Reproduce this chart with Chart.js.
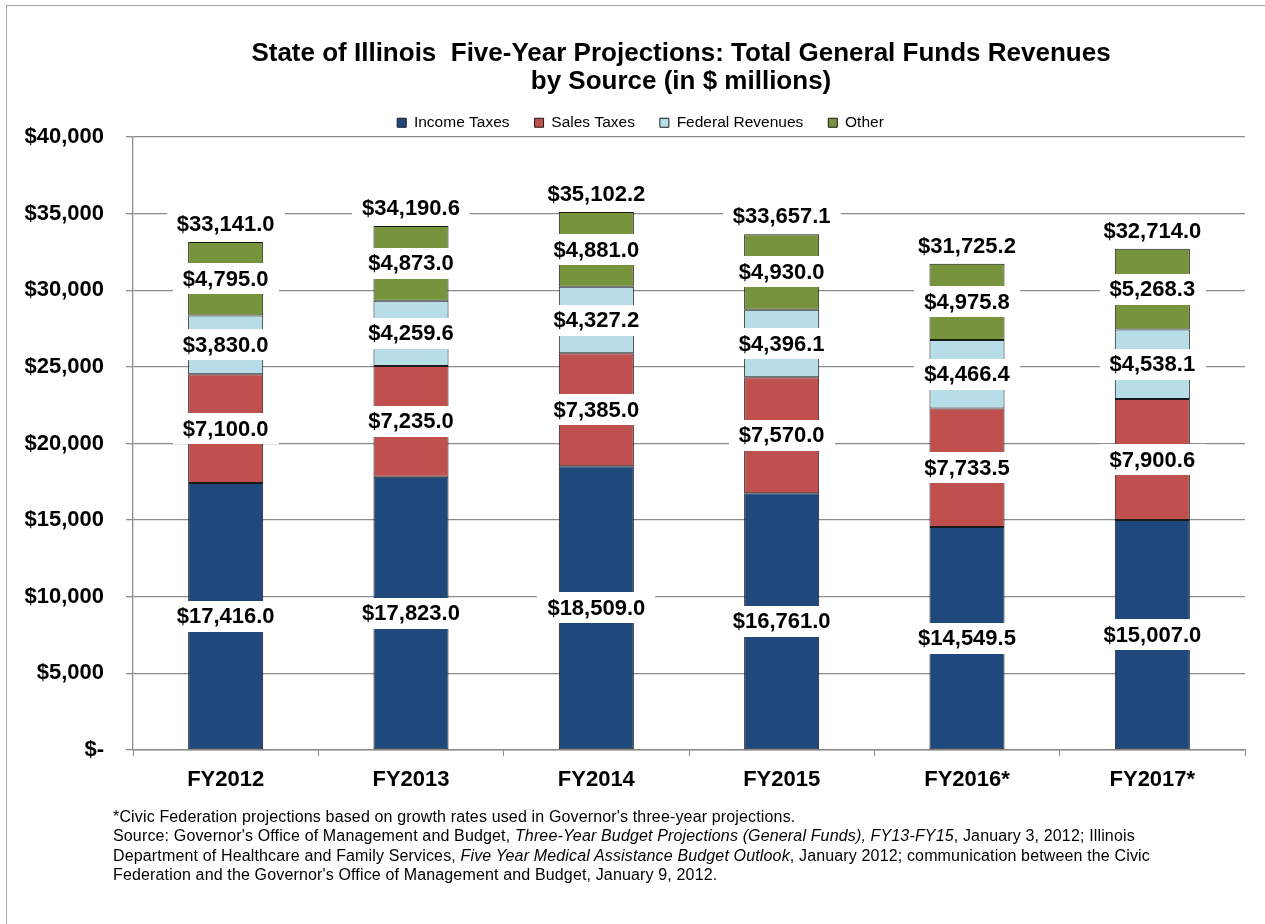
<!DOCTYPE html>
<html>
<head>
<meta charset="utf-8">
<script src="https://cdn.jsdelivr.net/npm/chart.js@4.4.0/dist/chart.umd.min.js"></script>
<style>
  html, body { margin: 0; padding: 0; background: #fff; overflow: hidden; }
  #wrap { position: relative; width: 1265px; height: 924px; }
  #frame { position: absolute; left: 6px; top: 5px; width: 1320px; height: 1000px; border: 1px solid #a6a6a6; }
  #chart { position: absolute; left: 0; top: 0; }
  #note { position: absolute; left: 113px; top: 807px; width: 1140px; white-space: nowrap;
          font: 16px "Liberation Sans", Arial, sans-serif; letter-spacing: 0.15px; line-height: 19.3px; color: #000; }
</style>
</head>
<body>
<div id="wrap">
  <div id="frame"></div>
  <canvas id="chart" width="1265" height="924"></canvas>
  <div id="note">*Civic Federation projections based on growth rates used in Governor's three-year projections.<br>Source: Governor's Office of Management and Budget, <i>Three-Year Budget Projections (General Funds), FY13-FY15</i>, January 3, 2012; Illinois<br>Department of Healthcare and Family Services, <i>Five Year Medical Assistance Budget Outlook</i>, January 2012; communication between the Civic<br>Federation and the Governor's Office of Management and Budget, January 9, 2012.</div>
</div>
<script>
// data (in $ millions)
var years = ["FY2012", "FY2013", "FY2014", "FY2015", "FY2016*", "FY2017*"];
var incomeTaxes = [17416.0, 17823.0, 18509.0, 16761.0, 14549.5, 15007.0];
var salesTaxes = [7100.0, 7235.0, 7385.0, 7570.0, 7733.5, 7900.6];
var federalRevenues = [3830.0, 4259.6, 4327.2, 4396.1, 4466.4, 4538.1];
var other = [4795.0, 4873.0, 4881.0, 4930.0, 4975.8, 5268.3];
var totals = [33141.0, 34190.6, 35102.2, 33657.1, 31725.2, 32714.0];
var yTicks = [0, 5000, 10000, 15000, 20000, 25000, 30000, 35000, 40000];

var titleLines = ["State of Illinois  Five-Year Projections: Total General Funds Revenues", "by Source (in $ millions)"];

var FONT = '"Liberation Sans", Arial, sans-serif';

function money(v) {
  return '$' + v.toLocaleString('en-US', { minimumFractionDigits: 1, maximumFractionDigits: 1 });
}

function boxedText(ctx, txt, x, y) {
  ctx.font = 'bold 22px ' + FONT;
  var w = ctx.measureText(txt).width + 20;
  ctx.fillStyle = '#fff';
  ctx.fillRect(Math.round(x - w / 2), Math.round(y - 15.5), Math.round(w), 31);
  ctx.fillStyle = '#000';
  ctx.textAlign = 'center';
  ctx.textBaseline = 'middle';
  ctx.fillText(txt, x, y + 1);
}

// title drawn by hand so it can sit off-centre like the original
var titlePlugin = {
  id: 'titleLines',
  afterLayout: function (chart) {
    // legend in the original is centred a bit right of the canvas centre
    chart.legend.left += 36;
  },
  afterDraw: function (chart) {
    var ctx = chart.ctx;
    ctx.save();
    ctx.font = 'bold 26px ' + FONT;
    ctx.fillStyle = '#000';
    ctx.textAlign = 'center';
    ctx.textBaseline = 'middle';
    ctx.fillText(titleLines[0], 681, 54);
    ctx.fillText(titleLines[1], 681, 82);
    ctx.restore();
  }
};

// value labels with white boxes, plus the totals above each stack
var labelPlugin = {
  id: 'valueLabels',
  afterDatasetsDraw: function (chart) {
    var ctx = chart.ctx;
    var yScale = chart.scales.y;
    ctx.save();
    chart.data.datasets.forEach(function (ds, di) {
      var meta = chart.getDatasetMeta(di);
      meta.data.forEach(function (bar, i) {
        boxedText(ctx, money(ds.data[i]), bar.x, (bar.y + bar.base) / 2);
      });
    });
    var meta0 = chart.getDatasetMeta(0);
    totals.forEach(function (t, i) {
      boxedText(ctx, money(t), meta0.data[i].x, yScale.getPixelForValue(t) - 18);
    });
    ctx.restore();
  }
};

var border = '#1a1a1a';

new Chart(document.getElementById('chart'), {
  type: 'bar',
  data: {
    labels: years,
    datasets: [
      { label: 'Income Taxes', data: incomeTaxes, backgroundColor: '#1F497D', borderColor: border, borderWidth: 1, borderSkipped: false },
      { label: 'Sales Taxes', data: salesTaxes, backgroundColor: '#C0504D', borderColor: border, borderWidth: 1, borderSkipped: false },
      { label: 'Federal Revenues', data: federalRevenues, backgroundColor: '#B7DEE8', borderColor: border, borderWidth: 1, borderSkipped: false },
      { label: 'Other', data: other, backgroundColor: '#77933C', borderColor: border, borderWidth: 1, borderSkipped: false }
    ]
  },
  options: {
    responsive: false,
    animation: false,
    events: [],
    barPercentage: 0.81,
    categoryPercentage: 0.5,
    layout: { padding: { top: 90, left: 0, right: 20, bottom: 129 } },
    plugins: {
      title: { display: false },
      tooltip: { enabled: false },
      legend: {
        position: 'top',
        maxHeight: 47,
        labels: {
          boxWidth: 9, boxHeight: 9, padding: 25, color: '#000',
          font: { family: FONT, size: 15.5 }
        }
      }
    },
    scales: {
      x: {
        stacked: true,
        grid: { display: true, drawOnChartArea: false, drawTicks: true, tickLength: 6, color: '#8c8c8c', offset: true },
        border: { display: true, color: '#8c8c8c', width: 1.5 },
        ticks: { color: '#000', padding: 11, font: { family: FONT, size: 22, weight: 'bold' } },
        afterFit: function (s) { s.height = 45; }
      },
      y: {
        stacked: true,
        min: 0, max: 40000,
        afterBuildTicks: function (s) { s.ticks = yTicks.map(function (v) { return { value: v }; }); },
        grid: { color: '#8c8c8c', lineWidth: 1.3, tickLength: 7 },
        border: { display: true, color: '#8c8c8c', width: 1.3 },
        ticks: {
          color: '#000', padding: 22,
          font: { family: FONT, size: 22, weight: 'bold' },
          callback: function (v) { return v === 0 ? '$-' : '$' + v.toLocaleString('en-US'); }
        },
        afterFit: function (s) { s.width = 133; }
      }
    }
  },
  plugins: [labelPlugin, titlePlugin]
});
</script>
</body>
</html>
